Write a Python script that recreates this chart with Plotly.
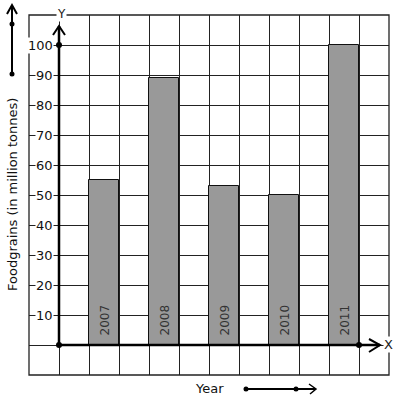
import plotly.graph_objects as go

years = ["2007", "2008", "2009", "2010", "2011"]
foodgrains = [55, 89, 53, 50, 100]
bar_x = [1.5, 3.5, 5.5, 7.5, 9.5]
y_ticks = [10, 20, 30, 40, 50, 60, 70, 80, 90, 100]

W, H = 397, 401
L, T = 29, 15
PW, PH = 360, 360

def px2paper(px, py):
    return (px - L) / PW, (T + PH - py) / PH

def px2data(px, py):
    return (px - 59) / 30.0, (345 - py) / 3.0

fig = go.Figure()
fig.add_trace(go.Bar(
    x=bar_x, y=foodgrains, width=1,
    marker=dict(color="#999999", line=dict(color="#111111", width=1)),
    hoverinfo="skip", showlegend=False,
))

shapes = []
annotations = []

# border
shapes.append(dict(type="rect", xref="paper", yref="paper", x0=0, y0=0, x1=1, y1=1,
                   line=dict(color="#222222", width=1.3), layer="above"))

ax_w = 2.5
# Y axis
shapes.append(dict(type="line", xref="x", yref="y", x0=0, y0=0, x1=0, y1=106.3,
                   line=dict(color="black", width=ax_w)))
tx, ty = px2data(59, 26); ax1, ay1 = px2data(53, 35); bx1, by1 = px2data(65, 35)
shapes.append(dict(type="path", xref="x", yref="y",
                   path=f"M {ax1} {ay1} L {tx} {ty} L {bx1} {by1}",
                   line=dict(color="black", width=2)))
# X axis
shapes.append(dict(type="line", xref="x", yref="y", x0=0, y0=0, x1=10.7, y1=0,
                   line=dict(color="black", width=ax_w)))
tx, ty = px2data(380, 345); ax1, ay1 = px2data(369, 339); bx1, by1 = px2data(369, 352)
shapes.append(dict(type="path", xref="x", yref="y",
                   path=f"M {ax1} {ay1} L {tx} {ty} L {bx1} {by1}",
                   line=dict(color="black", width=2)))

# top-left arrow (paper)
x0p, y0p = px2paper(12, 74); x1p, y1p = px2paper(12, 6)
shapes.append(dict(type="line", xref="paper", yref="paper", x0=x0p, y0=y0p, x1=x1p, y1=y1p,
                   line=dict(color="black", width=2)))
a = px2paper(7, 14); t = px2paper(12, 5); b = px2paper(17, 14)
shapes.append(dict(type="path", xref="paper", yref="paper",
                   path=f"M {a[0]} {a[1]} L {t[0]} {t[1]} L {b[0]} {b[1]}",
                   line=dict(color="black", width=2)))
for (cx, cy) in [(12, 24), (12, 74)]:
    p0 = px2paper(cx - 2.5, cy + 2.5); p1 = px2paper(cx + 2.5, cy - 2.5)
    shapes.append(dict(type="circle", xref="paper", yref="paper", x0=p0[0], y0=p0[1],
                       x1=p1[0], y1=p1[1], fillcolor="black", line=dict(color="black", width=0)))

# Year arrow (paper)
x0p, y0p = px2paper(246, 389); x1p, y1p = px2paper(315, 389)
shapes.append(dict(type="line", xref="paper", yref="paper", x0=x0p, y0=y0p, x1=x1p, y1=y1p,
                   line=dict(color="black", width=2)))
a = px2paper(309, 384); t = px2paper(316, 389); b = px2paper(310, 394)
shapes.append(dict(type="path", xref="paper", yref="paper",
                   path=f"M {a[0]} {a[1]} L {t[0]} {t[1]} L {b[0]} {b[1]}",
                   line=dict(color="black", width=1.5)))
for (cx, cy) in [(246, 389), (296, 389)]:
    p0 = px2paper(cx - 2.5, cy + 2.5); p1 = px2paper(cx + 2.5, cy - 2.5)
    shapes.append(dict(type="circle", xref="paper", yref="paper", x0=p0[0], y0=p0[1],
                       x1=p1[0], y1=p1[1], fillcolor="black", line=dict(color="black", width=0)))

# axis dots
fig.add_trace(go.Scatter(x=[0, 0, 10], y=[0, 100, 0], mode="markers",
                         marker=dict(color="black", size=6), cliponaxis=False,
                         hoverinfo="skip", showlegend=False))

font = "DejaVu Sans"
# tick labels
for v in y_ticks:
    annotations.append(dict(x=-0.17, y=v, xref="x", yref="y", text=str(v), showarrow=False,
                            xanchor="right", yanchor="middle", bgcolor="white", borderpad=0,
                            font=dict(family=font, size=13, color="#111111")))

# bar year labels
for xv, yr in zip(bar_x, years):
    annotations.append(dict(x=xv, y=0, xref="x", yref="y", text=yr, showarrow=False,
                            textangle=-90, xanchor="center", yanchor="bottom", yshift=7,
                            font=dict(family=font, size=12, color="#333333")))

# Y / X labels
p = px2paper(61, 14)
annotations.append(dict(x=p[0], y=p[1], xref="paper", yref="paper", text="Y", showarrow=False,
                        xanchor="center", yanchor="middle", bgcolor="white", borderpad=0,
                        font=dict(family=font, size=12, color="#222222")))
p = px2paper(388, 344)
annotations.append(dict(x=p[0], y=p[1], xref="paper", yref="paper", text="X", showarrow=False,
                        xanchor="center", yanchor="middle", bgcolor="white", borderpad=0,
                        font=dict(family=font, size=13, color="#222222")))
p = px2paper(209, 388)
annotations.append(dict(x=p[0], y=p[1], xref="paper", yref="paper", text="Year", showarrow=False,
                        xanchor="center", yanchor="middle",
                        font=dict(family=font, size=13, color="#111111")))
p = px2paper(12, 195)
annotations.append(dict(x=p[0], y=p[1], xref="paper", yref="paper",
                        text="Foodgrains (in million tonnes)", showarrow=False, textangle=-90,
                        xanchor="center", yanchor="middle",
                        font=dict(family=font, size=13, color="#111111")))

fig.update_layout(
    width=W, height=H,
    margin=dict(l=L, r=W - L - PW, t=T, b=H - T - PH, pad=0),
    paper_bgcolor="white", plot_bgcolor="white",
    shapes=shapes, annotations=annotations,
    xaxis=dict(range=[-1, 11], dtick=1, tick0=0, showgrid=True, gridcolor="#222222",
               gridwidth=1.2, showticklabels=False, zeroline=False, ticks="", showline=False,
               fixedrange=True),
    yaxis=dict(range=[-10, 110], dtick=10, tick0=0, showgrid=True, gridcolor="#222222",
               gridwidth=1.2, showticklabels=False, zeroline=False, ticks="", showline=False,
               fixedrange=True),
    bargap=0,
)
fig.write_html("out.html", config={"displayModeBar": False},
               post_script="document.body.style.margin='0';document.body.style.overflow='hidden';")
